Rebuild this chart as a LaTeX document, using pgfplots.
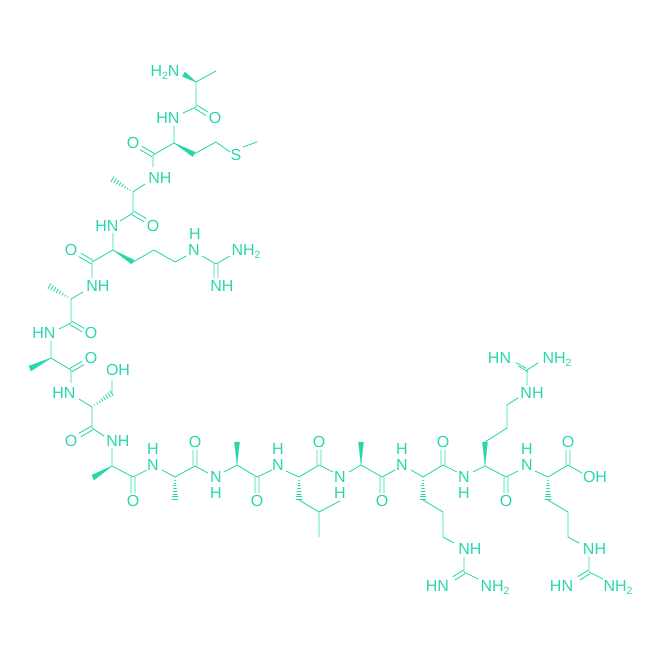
\documentclass[border=0pt]{standalone}
\usepackage{fontspec}
\setmainfont{Liberation Sans}
\usepackage{pgfplots}
\pgfplotsset{compat=1.18}
\definecolor{pep}{HTML}{28D6AC}
\newcommand{\lab}[3]{\node[anchor=base,inner sep=0pt,text=pep,font=\fontsize{16}{16}\selectfont,yshift=-5.7pt] at (axis cs:#1,#2) {#3};}
\newcommand{\two}{\raisebox{-0.3ex}{\fontsize{10.5}{10.5}\selectfont 2}}
\newcommand{\hash}[4]{%
  \foreach \t in {0.14,0.26,0.38,0.50,0.62,0.74,0.86,0.98}{%
    \pgfmathsetmacro{\len}{sqrt((#3-#1)^2+(#4-#2)^2)}%
    \pgfmathsetmacro{\nx}{-(#4-#2)/\len*3*\t}%
    \pgfmathsetmacro{\ny}{(#3-#1)/\len*3*\t}%
    \pgfmathsetmacro{\px}{#1+(#3-#1)*\t}%
    \pgfmathsetmacro{\py}{#2+(#4-#2)*\t}%
    \pgfmathsetmacro{\ax}{\px+\nx}\pgfmathsetmacro{\ay}{\py+\ny}%
    \pgfmathsetmacro{\bx}{\px-\nx}\pgfmathsetmacro{\by}{\py-\ny}%
    \edef\tmp{\noexpand\addplot[bondline] coordinates {(\ax,\ay) (\bx,\by)};}\tmp
  }%
}
\begin{document}
\begin{tikzpicture}
\begin{axis}[
  scale only axis, width=649pt, height=649pt,
  xmin=0, xmax=649, ymin=0, ymax=649, y dir=reverse,
  hide axis, clip=false,
  unbounded coords=jump,
  bondline/.style={draw=pep, line width=0.85pt, no markers, line join=round, line cap=round},
  wedge/.style={draw=pep, fill=pep, line width=0.3pt, no markers},
]
\path (axis cs:0,0) rectangle (axis cs:649,649);
% single bonds
\addplot[bondline] coordinates {
(216,71) (196,82) (196,107) (183,113) (nan,nan)
(174,126) (174,143) (153,155) (153,167) (nan,nan)
(194,154) (216,142) (230,152) (nan,nan)
(243,147) (257,142) (nan,nan)
(145,184) (133,192) (133,213) (120,221) (nan,nan)
(113,233) (113,250) (92,262) (92,278) (nan,nan)
(133,262) (154,250) (175,262) (186,256) (nan,nan)
(202,256) (216,264) (230,256) (nan,nan)
(83,292) (71,299) (71,323) (59,329) (nan,nan)
(51,341) (51,358) (71,370) (71,383) (nan,nan)
(79,399) (92,407) (92,428) (104,436) (nan,nan)
(112,393) (112,380) (nan,nan)
(112,449) (112,466) (133,477) (147,470) (nan,nan)
(162,470) (175,477) (195,466) (208,473) (nan,nan)
(224,472) (237,465) (257,477) (272,470) (nan,nan)
(286,471) (299,477) (319,465) (333,472) (nan,nan)
(299,500) (319,512) (340,501) (nan,nan)
(319,512) (319,537) (nan,nan)
(349,472) (361,465) (382,477) (395,470) (nan,nan)
(411,470) (423,477) (443,465) (457,472) (nan,nan)
(423,500) (443,512) (443,537) (454,543) (nan,nan)
(464,557) (464,572) (478,579) (nan,nan)
(473,472) (485,466) (506,477) (518,471) (nan,nan)
(485,442) (507,428) (507,405) (518,398) (nan,nan)
(527,385) (527,370) (538,363) (nan,nan)
(535,471) (548,477) (568,465) (582,473) (nan,nan)
(548,500) (568,512) (568,537) (579,543) (nan,nan)
(589,557) (589,572) (603,579)
};
% double bonds
\addplot[bondline] coordinates {
(197,105.3) (208,112) (nan,nan) (195,108.7) (206,115.5) (nan,nan)
(154,153.3) (142,146.3) (nan,nan) (152,156.7) (140,149.7) (nan,nan)
(134,211.3) (146,218.3) (nan,nan) (132,214.7) (144,221.7) (nan,nan)
(93,260.3) (81,253.3) (nan,nan) (91,263.7) (79,256.7) (nan,nan)
(72,321.3) (84,328.3) (nan,nan) (70,324.7) (82,331.7) (nan,nan)
(72,371.7) (84,364.7) (nan,nan) (70,368.3) (82,361.3) (nan,nan)
(93,429.7) (81,436.7) (nan,nan) (91,426.3) (79,433.3) (nan,nan)
(131,477) (131,493) (nan,nan) (135,477) (135,493) (nan,nan)
(193,466) (193,450) (nan,nan) (197,466) (197,450) (nan,nan)
(255,477) (255,493) (nan,nan) (259,477) (259,493) (nan,nan)
(317,465) (317,450) (nan,nan) (321,465) (321,450) (nan,nan)
(380,477) (380,493) (nan,nan) (384,477) (384,493) (nan,nan)
(441,465) (441,450) (nan,nan) (445,465) (445,450) (nan,nan)
(504,477) (504,493) (nan,nan) (508,477) (508,493) (nan,nan)
(566,465) (566,450) (nan,nan) (570,465) (570,450) (nan,nan)
(214,264) (214,278) (nan,nan) (218,264) (218,278) (nan,nan)
(528,371.7) (518,366) (nan,nan) (526,368.3) (516,362.6) (nan,nan)
(465,573.7) (455,580) (nan,nan) (463,570.3) (453,576.6) (nan,nan)
(590,573.7) (580,580) (nan,nan) (588,570.3) (578,576.6)
};
% wedges
\addplot[wedge] coordinates {(196,82) (182.5,76.5) (185,72) (196,82)};
\addplot[wedge] coordinates {(174,143) (192.5,156.5) (195,152) (174,143)};
\addplot[wedge] coordinates {(113,250) (131.5,264) (134,260) (113,250)};
\addplot[wedge] coordinates {(51,358) (29,366) (31,371) (51,358)};
\addplot[wedge] coordinates {(112,466) (92,475) (94,480) (112,466)};
\addplot[wedge] coordinates {(237,465) (234.5,442) (239.5,442) (237,465)};
\addplot[wedge] coordinates {(361,465) (358.5,442) (363.5,442) (361,465)};
\addplot[wedge] coordinates {(485,466) (482.5,442) (487.5,442) (485,466)};
% hashed bonds
\hash{133}{192}{112}{179}
\hash{71}{299}{49}{286}
\hash{92}{407}{112}{393}
\hash{175}{477}{175}{500}
\hash{299}{477}{299}{500}
\hash{423}{477}{423}{500}
\hash{548}{477}{548}{500}
% atom labels
\lab{165}{71}{H\two N}
\lab{168}{118}{HN}
\lab{215}{118}{O}
\lab{133}{143}{O}
\lab{236}{155}{S}
\lab{160}{178}{NH}
\lab{107}{226}{HN}
\lab{153}{226}{O}
\lab{195}{234}{H}
\lab{194}{250}{N}
\lab{246}{250}{NH\two}
\lab{222}{286}{NH}
\lab{71}{250}{O}
\lab{98}{286}{NH}
\lab{91}{333}{O}
\lab{44}{333}{HN}
\lab{91}{358}{O}
\lab{118}{370}{OH}
\lab{64}{393}{HN}
\lab{71}{441}{O}
\lab{118}{441}{NH}
\lab{153}{449}{H}
\lab{153}{465}{N}
\lab{133}{501}{O}
\lab{195}{442}{O}
\lab{216}{477}{N}
\lab{216}{493}{H}
\lab{257}{501}{O}
\lab{278}{465}{N}
\lab{278}{449}{H}
\lab{319}{442}{O}
\lab{340}{477}{N}
\lab{340}{493}{H}
\lab{382}{501}{O}
\lab{402}{465}{N}
\lab{402}{449}{H}
\lab{443}{442}{O}
\lab{464}{477}{N}
\lab{464}{493}{H}
\lab{506}{501}{O}
\lab{527}{465}{N}
\lab{527}{449}{H}
\lab{568}{442}{O}
\lab{595}{477}{OH}
\lab{470}{549}{NH}
\lab{437.5}{586}{HN}
\lab{495}{586}{NH\two}
\lab{532}{393}{NH}
\lab{499.5}{358}{HN}
\lab{557}{358}{NH\two}
\lab{594.5}{549}{NH}
\lab{561.5}{586}{HN}
\lab{618}{586}{NH\two}
\end{axis}
\end{tikzpicture}
\end{document}
